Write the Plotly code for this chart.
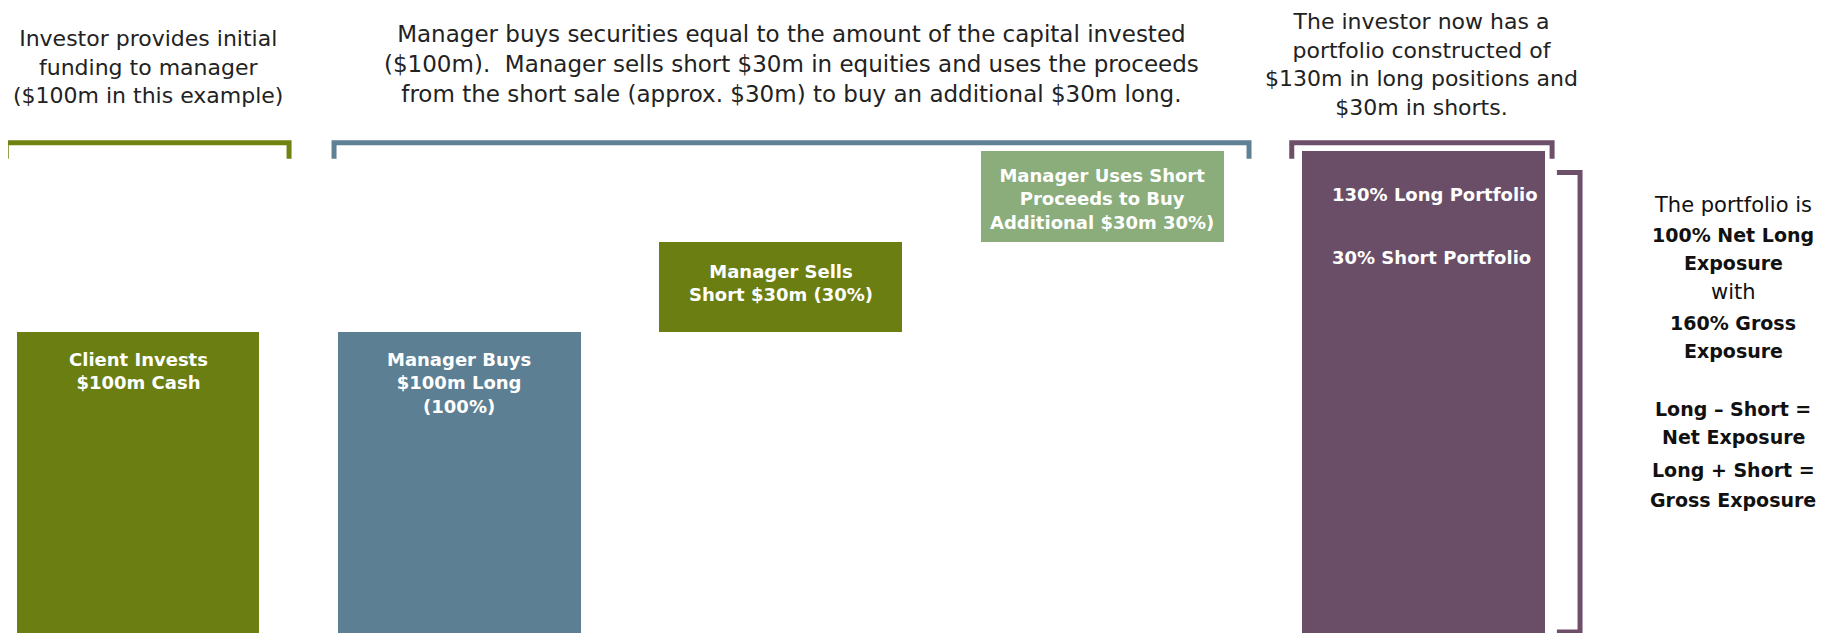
import plotly.graph_objects as go

# 130/30 strategy build-up, values in $m (= % of capital)
steps = ["Client invests", "Manager buys", "Manager sells short", "Manager uses proceeds", "Portfolio"]
step_x = [0, 1, 2, 3, 4]
bar_base = [0, 0, 100, 130, 0]
bar_size = [100, 100, 30, 30, 160]
bar_colors = ["#6b7e11", "#5d7f93", "#6b7e11", "#8aad7b", "#6a4e67"]
bar_labels = [
    "Client Invests<br>$100m Cash",
    "Manager Buys<br>$100m Long<br>(100%)",
    "Manager Sells<br>Short $30m (30%)",
    "Manager Uses Short<br>Proceeds to Buy<br>Additional $30m 30%)",
    "",
]
portfolio_parts = ["130% Long Portfolio", "30% Short Portfolio"]

stage_notes = [
    "Investor provides initial<br>funding to manager<br>($100m in this example)",
    "Manager buys securities equal to the amount of the capital invested<br>"
    "($100m).  Manager sells short $30m in equities and uses the proceeds<br>"
    "from the short sale (approx. $30m) to buy an additional $30m long.",
    "The investor now has a<br>portfolio constructed of<br>$130m in long positions and<br>$30m in shorts.",
]
stage_colors = ["#718212", "#5f8196", "#6d4f6a"]

summary_lines = ["The portfolio is", "100% Net Long", "Exposure", "with", "160% Gross", "Exposure",
                 "Long \u2013 Short =", "Net Exposure", "Long + Short =", "Gross Exposure"]
summary_bold = [False, True, True, False, True, True, True, True, True, True]

FONT = "DejaVu Sans, sans-serif"
BAR_W = 0.756
W, H = 1833, 625  # page has an 8px body margin


def paper_y(page_px):
    return 1 - (page_px - 8) / H


fig = go.Figure()
fig.add_bar(
    x=step_x,
    y=bar_size,
    base=bar_base,
    width=BAR_W,
    marker=dict(color=bar_colors, line=dict(width=0)),
    hoverinfo="skip",
    showlegend=False,
)

# labels inside bars
label_shift = [-15, -15, 4, -3]
for i in range(4):
    top = bar_base[i] + bar_size[i]
    if i < 2:
        fig.add_annotation(x=step_x[i], y=top, yanchor="top", yshift=label_shift[i],
                           text="<b>" + bar_labels[i] + "</b>", showarrow=False,
                           font=dict(family=FONT, size=18, color="white"))
    else:
        fig.add_annotation(x=step_x[i], y=bar_base[i] + bar_size[i] / 2, yanchor="middle",
                           yshift=label_shift[i], text="<b>" + bar_labels[i] + "</b>",
                           showarrow=False, font=dict(family=FONT, size=18, color="white"))
for i in range(2):
    fig.add_annotation(x=step_x[4] - BAR_W / 2, xanchor="left", xshift=28,
                       y=bar_base[4] + bar_size[4], yanchor="middle", yshift=-43 - 63 * i,
                       text="<b>" + portfolio_parts[i] + "</b>", showarrow=False,
                       font=dict(family=FONT, size=18, color="white"))

# brackets and notes above each stage
stage_spans = [(-0.41, 0.47), (0.61, 3.457), (3.59, 4.40)]
note_page_y = [67, 64, 65]
note_size = [22, 23, 22]
for (x0, x1), col, note, ny, ns in zip(stage_spans, stage_colors, stage_notes, note_page_y, note_size):
    fig.add_shape(type="path", path=f"M {x0},157.5 L {x0},162.8 L {x1},162.8 L {x1},157.5",
                  line=dict(color=col, width=5), layer="below")
    fig.add_annotation(x=(x0 + x1) / 2, y=paper_y(ny), yref="paper", yanchor="middle", text=note,
                       showarrow=False, font=dict(family=FONT, size=ns, color="#222222"))

# closing bracket for the portfolio
fig.add_shape(type="path", path="M 4.415,153 L 4.487,153 L 4.487,0.3 L 4.415,0.3",
              line=dict(color="#6d4f6a", width=5))

summary_page_y = [205, 235, 263, 292, 323, 351, 409, 437, 470, 500]
for txt, bold, py in zip(summary_lines, summary_bold, summary_page_y):
    fig.add_annotation(x=4.963, y=paper_y(py), yref="paper", yanchor="middle",
                       text=f"<b>{txt}</b>" if bold else txt, showarrow=False,
                       font=dict(family=FONT, size=19 if bold else 21, color="#111111"))

fig.update_xaxes(range=[-0.4045, 5.299], visible=False, fixedrange=True)
fig.update_yaxes(range=[0, 207.6], visible=False, fixedrange=True)
fig.update_layout(
    width=W,
    height=H,
    margin=dict(l=0, r=0, t=0, b=0),
    plot_bgcolor="white",
    paper_bgcolor="white",
    bargap=0,
)

fig.write_html("out.html")
